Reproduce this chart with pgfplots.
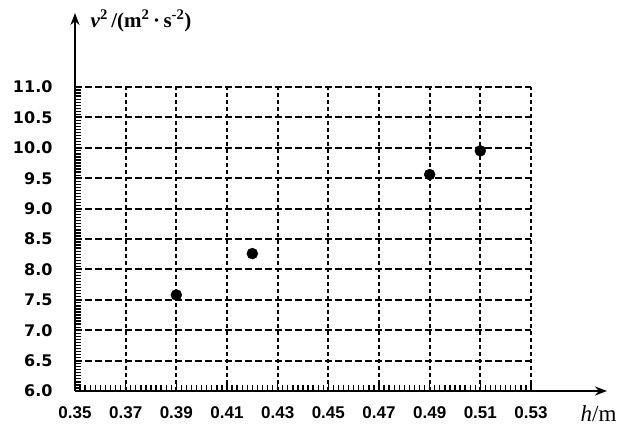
\documentclass[border=0pt]{standalone}
\usepackage{fontspec}
\setmainfont{Liberation Serif}
\newfontfamily\tickfont{Liberation Sans}
\newfontfamily\ytickfont{DejaVu Sans}
\usepackage{pgfplots}
\pgfplotsset{compat=1.18}
\usetikzlibrary{arrows.meta}
\begin{document}
\begin{tikzpicture}
\useasboundingbox (-75pt,-36pt) rectangle (544pt,391pt);
\begin{axis}[
  scale only axis, width=456pt, height=304pt,
  at={(0,0)}, anchor=south west,
  xmin=0.35, xmax=0.53, ymin=6, ymax=11,
  axis lines=left,
  axis line style={line width=2.2pt, -{Stealth[length=12pt,width=9pt]}},
  x axis line style={shorten >=-76pt},
  y axis line style={shorten >=-74pt},
  xtick={0.35,0.37,0.39,0.41,0.43,0.45,0.47,0.49,0.51,0.53},
  ytick={6,6.5,7,7.5,8,8.5,9,9.5,10,10.5,11},
  minor x tick num=9, minor y tick num=9,
  grid=major,
  major x grid style={black, line width=1.9pt, dash pattern=on 4pt off 3pt},
  major y grid style={black, line width=1.9pt, dash pattern=on 7pt off 3pt},
  tick style={black, line width=1.3pt},
  tick align=inside,
  major tick length=7pt, minor tick length=6pt,
  /pgf/number format/assume math mode=true,
  xticklabel style={font=\tickfont\bfseries\fontsize{17}{17}\selectfont, yshift=-12pt,
    /pgf/number format/.cd, fixed, fixed zerofill, precision=2},
  yticklabel style={font=\ytickfont\bfseries\fontsize{16}{16}\selectfont, xshift=-19pt,
    /pgf/number format/.cd, fixed, fixed zerofill, precision=1},
]
\addplot[only marks, mark=*, mark size=5.5pt, black]
  coordinates {(0.39,7.58)(0.42,8.26)(0.49,9.56)(0.51,9.95)};
\end{axis}
\node[anchor=base east, font=\fontsize{23}{23}\selectfont] at (545pt,-31pt) {\textit{h}/m};
\node[anchor=west, font=\bfseries\fontsize{21}{21}\selectfont] at (12pt,370pt)
  {\textit{v}\textsuperscript{2}\,/(m\textsuperscript{2}\,·\,s\textsuperscript{-2})};
\end{tikzpicture}
\end{document}
